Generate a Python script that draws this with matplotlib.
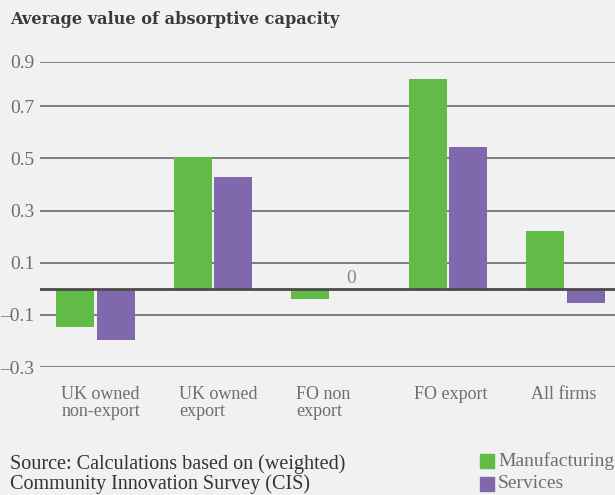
import matplotlib
matplotlib.use("Agg")
import matplotlib.pyplot as plt
import numpy as np
from matplotlib.patches import Rectangle

categories = ["UK owned\nnon-export", "UK owned\nexport", "FO non\nexport", "FO export", "All firms"]
manufacturing = [-0.145, 0.504, -0.038, 0.804, 0.223]
services = [-0.196, 0.430, -0.005, 0.545, -0.054]
tick_values = [-0.3, -0.1, 0.1, 0.3, 0.5, 0.7, 0.87]
tick_labels = ["\u20130.3", "\u20130.1", "0.1", "0.3", "0.5", "0.7", "0.9"]

bg = "#f1f1f1"
green = "#62bb46"
purple = "#8068ad"
tcol = "#6e6e6e"
serif = ["Liberation Serif", "DejaVu Serif"]

fig = plt.figure(figsize=(6.15, 4.95), dpi=100, facecolor=bg)
ax = fig.add_axes([40/615, 1-367/495, 1-40/615, (367-62)/495], facecolor=bg)

x = np.arange(len(categories))
w = 0.323
off = w/2 + 0.011
ax.bar(x - off, manufacturing, w, color=green, zorder=3)
ax.bar(x + off, services, w, color=purple, zorder=3)

ax.set_xlim(-0.472, 4.421)
ax.set_ylim(-0.3, 0.87)
for v in tick_values:
    ax.axhline(v, color="#6a6a6a", lw=1.2, zorder=1)
ax.axhline(0, color="#4a4a4a", lw=2.0, zorder=4)

ax.set_yticks(tick_values)
ax.set_yticklabels(tick_labels, fontsize=14, color=tcol, family=serif)
ax.tick_params(axis="y", length=0, pad=4)
ax.set_xticks([])
for s in ax.spines.values():
    s.set_visible(False)

# category labels (left aligned)
for i, lab in enumerate(categories):
    ax.text(i - 0.29, -0.372, lab, ha="left", va="top", fontsize=13,
            color=tcol, family=serif, linespacing=1.05, clip_on=False)

# zero annotation
ax.text(2 + off, services[2] + 0.012, "0", ha="center", va="bottom",
        fontsize=14, color="#888888", family=serif, zorder=5)

fig.text(10/615, 1-20/495, "Average value of absorptive capacity", ha="left", va="center",
         fontsize=11.6, fontweight="bold", color="#3a3a3a", family=["DejaVu Serif"])

fig.text(10/615, 1-474/495, "Source: Calculations based on (weighted)\nCommunity Innovation Survey (CIS)",
         ha="left", va="center", fontsize=14.5, color="#333333", family=serif, linespacing=1.05)

# legend
for yy, col, lab in [(461, green, "Manufacturing"), (484, purple, "Services")]:
    fig.patches.append(Rectangle((480/615, 1-(yy+7)/495), 14/615, 14/495,
                                 transform=fig.transFigure, color=col))
    fig.text(498/615, 1-yy/495, lab, ha="left", va="center", fontsize=14,
             color=tcol, family=serif)

fig.savefig("out.png", dpi=100, facecolor=bg)
